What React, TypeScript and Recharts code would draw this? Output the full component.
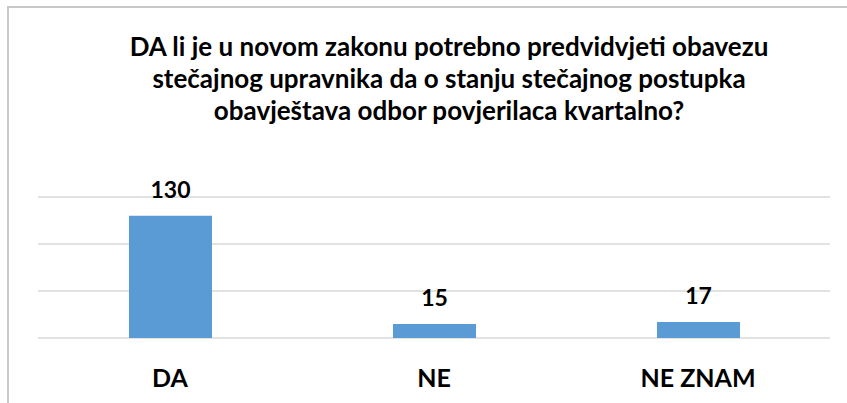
import { BarChart, Bar, XAxis, YAxis, CartesianGrid, LabelList } from 'recharts';

const categories = ['DA', 'NE', 'NE ZNAM'];
const values = [130, 15, 17];
const yTicks = [0, 50, 100, 150];

const titleLines = [
  'DA li je u novom zakonu potrebno predvidvjeti obavezu',
  'stečajnog upravnika da o stanju stečajnog postupka',
  'obavještava odbor povjerilaca kvartalno?',
];

const data = categories.map((name, i) => ({ name, value: values[i] }));

const FONT = 'Lato, "Open Sans", sans-serif';

function CategoryTick({ x, y, payload }: { x?: number; y?: number; payload?: { value: string } }) {
  return (
    <text
      x={x}
      y={(y ?? 0) + 49}
      textAnchor="middle"
      fill="#000"
      fontFamily={FONT}
      fontWeight={700}
      fontSize={25}
    >
      {payload?.value}
    </text>
  );
}

export default function App() {
  return (
    <div
      style={{
        position: 'absolute',
        left: 7,
        top: 6,
        width: 840,
        height: 397,
        overflow: 'hidden',
        borderLeft: '2px solid #c8c8c8',
        borderTop: '2px solid #c8c8c8',
        boxSizing: 'border-box',
        background: '#fff',
      }}
    >
      <div style={{ position: 'relative', width: 880, height: 395 }}>
        <div
          style={{
            position: 'absolute',
            left: 0,
            top: 22,
            width: 880,
            textAlign: 'center',
            fontFamily: FONT,
            fontWeight: 700,
            fontSize: 26,
            lineHeight: '32px',
            color: '#000',
          }}
        >
          {titleLines.map((t) => (
            <div key={t}>{t}</div>
          ))}
        </div>
        <BarChart width={880} height={395} data={data} margin={{ top: 189, right: 59, bottom: 25, left: 29 }}>
          <CartesianGrid vertical={false} stroke="#d9d9d9" strokeWidth={1.5} />
          <YAxis hide domain={[0, 150]} ticks={yTicks} />
          <XAxis
            dataKey="name"
            axisLine={false}
            tickLine={false}
            tickSize={0}
            tickMargin={0}
            height={40}
            tick={<CategoryTick />}
          />
          <Bar dataKey="value" fill="#5b9bd5" barSize={83} isAnimationActive={false}>
            <LabelList
              dataKey="value"
              position="top"
              offset={18}
              fill="#000"
              fontFamily={FONT}
              fontWeight={700}
              fontSize={23}
            />
          </Bar>
        </BarChart>
      </div>
    </div>
  );
}
